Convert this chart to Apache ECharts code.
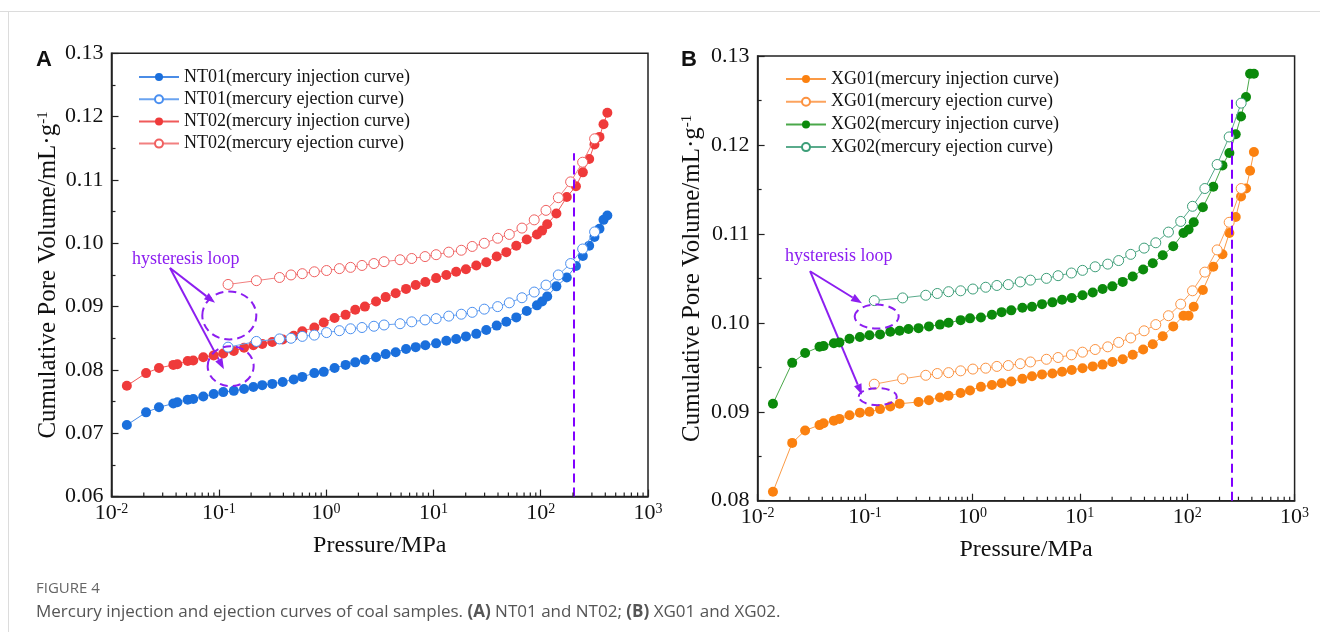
<!DOCTYPE html>
<html>
<head>
<meta charset="utf-8">
<script src="https://cdn.jsdelivr.net/npm/echarts@6/dist/echarts.min.js"></script>
<style>
html, body { margin: 0; padding: 0; background: #fff; }
#chart { width: 1320px; height: 632px; }
</style>
</head>
<body>
<div id="chart"></div>
<script>
// pressures (MPa) of the injection and ejection steps, same for every sample
const P_INJ = [0.0139, 0.0210, 0.0277, 0.0377, 0.0411, 0.0513, 0.0578, 0.0717, 0.0896, 0.110,
  0.138, 0.172, 0.210, 0.254, 0.315, 0.394, 0.499, 0.600, 0.777, 0.950,
  1.20, 1.52, 1.87, 2.30, 2.92, 3.59, 4.45, 5.56, 6.84, 8.41,
  10.6, 13.2, 16.3, 20.1, 25.1, 31.1, 38.9, 47.8, 59.2, 74.1,
  92.3, 103, 115, 140, 175, 213, 247, 283, 317, 353, 385, 418]
const P_EJ = [0.122, 0.224, 0.368, 0.471, 0.600, 0.777, 1.01, 1.33, 1.69, 2.16,
  2.79, 3.47, 4.89, 6.28, 8.36, 10.6, 13.9, 18.2, 23.0, 29.8,
  39.7, 51.0, 66.9, 87.0, 112, 146, 190, 246, 318]

// cumulative pore volume, mL/g
const NT01_INJ = [0.0713, 0.0733, 0.0741, 0.0747, 0.0749, 0.0753, 0.0754, 0.0758, 0.0762, 0.0765,
  0.0767, 0.0770, 0.0773, 0.0776, 0.0778, 0.0781, 0.0785, 0.0789, 0.0795, 0.0797,
  0.0803, 0.0808, 0.0812, 0.0816, 0.0820, 0.0825, 0.0828, 0.0833, 0.0836, 0.0839,
  0.0842, 0.0846, 0.0849, 0.0853, 0.0857, 0.0863, 0.0870, 0.0876, 0.0883, 0.0893,
  0.0902, 0.0908, 0.0916, 0.0932, 0.0946, 0.0964, 0.0980, 0.0996, 0.1010, 0.1023, 0.1037, 0.1044]
const NT01_EJ = [0.0836, 0.0845, 0.0849, 0.0850, 0.0853, 0.0855, 0.0859, 0.0862, 0.0865, 0.0867,
  0.0869, 0.0871, 0.0873, 0.0876, 0.0879, 0.0881, 0.0885, 0.0888, 0.0891, 0.0896,
  0.0900, 0.0906, 0.0914, 0.0923, 0.0934, 0.0950, 0.0968, 0.0991, 0.1018]
const NT02_INJ = [0.0775, 0.0795, 0.0803, 0.0808, 0.0809, 0.0814, 0.0815, 0.0820, 0.0823, 0.0826,
  0.0830, 0.0835, 0.0839, 0.0841, 0.0844, 0.0848, 0.0854, 0.0861, 0.0867, 0.0875,
  0.0882, 0.0887, 0.0895, 0.0900, 0.0908, 0.0915, 0.0921, 0.0928, 0.0934, 0.0939,
  0.0945, 0.0950, 0.0955, 0.0959, 0.0965, 0.0970, 0.0979, 0.0986, 0.0996, 0.1006,
  0.1014, 0.1020, 0.1030, 0.1047, 0.1073, 0.1090, 0.1112, 0.1133, 0.1156, 0.1168, 0.1188, 0.1206]
const NT02_EJ = [0.0935, 0.0941, 0.0946, 0.0950, 0.0952, 0.0955, 0.0957, 0.0960, 0.0962, 0.0965,
  0.0968, 0.0971, 0.0974, 0.0976, 0.0979, 0.0982, 0.0986, 0.0989, 0.0995, 0.1000,
  0.1008, 0.1014, 0.1024, 0.1037, 0.1052, 0.1072, 0.1097, 0.1128, 0.1165]
const XG01_INJ = [0.0810, 0.0865, 0.0879, 0.0885, 0.0887, 0.0890, 0.0892, 0.0896, 0.0899, 0.0900,
  0.0903, 0.0906, 0.0909, null, 0.0911, 0.0913, 0.0916, 0.0918, 0.0921, 0.0924,
  0.0928, 0.0930, 0.0932, 0.0934, 0.0937, 0.0940, 0.0942, 0.0943, 0.0945, 0.0947,
  0.0949, 0.0951, 0.0953, 0.0956, 0.0959, 0.0964, 0.0970, 0.0976, 0.0985, 0.0996,
  0.1008, 0.1008, 0.1018, 0.1037, 0.1063, 0.1077, 0.1101, 0.1119, 0.1142, 0.1151, 0.1171, 0.1192]
const XG01_EJ = [0.0931, 0.0937, 0.0941, 0.0943, 0.0944, 0.0946, 0.0948, 0.0949, 0.0951, 0.0952,
  0.0954, 0.0956, 0.0959, 0.0961, 0.0964, 0.0967, 0.0970, 0.0973, 0.0978, 0.0983,
  0.0991, 0.0998, 0.1008, 0.1021, 0.1036, 0.1057, 0.1082, 0.1113, 0.1151]
const XG02_INJ = [0.0909, 0.0955, 0.0966, 0.0973, 0.0974, 0.0977, 0.0978, 0.0982, 0.0984, 0.0986,
  0.0987, 0.0990, 0.0991, 0.0993, 0.0994, 0.0996, 0.0998, 0.1000, 0.1003, 0.1005,
  0.1006, 0.1009, 0.1012, 0.1014, 0.1017, 0.1018, 0.1021, 0.1023, 0.1026, 0.1028,
  0.1031, 0.1034, 0.1038, 0.1041, 0.1046, 0.1052, 0.1060, 0.1067, 0.1076, 0.1086,
  0.1101, 0.1105, 0.1113, 0.1130, 0.1153, 0.1177, 0.1191, 0.1212, 0.1232, 0.1254, 0.1280, 0.1280]
const XG02_EJ = [0.1025, 0.1028, 0.1031, 0.1033, 0.1035, 0.1036, 0.1038, 0.1040, 0.1042, 0.1043,
  0.1046, 0.1048, 0.1050, 0.1053, 0.1056, 0.1059, 0.1063, 0.1066, 0.1070, 0.1077,
  0.1084, 0.1090, 0.1102, 0.1114, 0.1131, 0.1151, 0.1178, 0.1209, 0.1247]

const NAMES_A = ['NT01(mercury injection curve)', 'NT01(mercury ejection curve)', 'NT02(mercury injection curve)', 'NT02(mercury ejection curve)']
const NAMES_B = ['XG01(mercury injection curve)', 'XG01(mercury ejection curve)', 'XG02(mercury injection curve)', 'XG02(mercury ejection curve)']
const Y_MIN = [0.06, 0.08]
const Y_MAX = [0.13, 0.13]
const DECADES = [0.01, 0.1, 1, 10, 100]
const MINOR_STEPS = [2, 3, 4, 5, 6, 7, 8, 9]
// pressure of the dashed limit line and its top
const LIMIT = [[203, 0.1142], [259, 0.1251]]

const serif = 'Liberation Serif'
const purple = '#8c1ef0'

const chart = echarts.init(document.getElementById('chart'))

function pairs(xs, ys) {
  return xs.map((x, i) => [x, ys[i]]).filter(d => d[1] != null)
}

function curve(name, xs, ys, color, lineColor, open, idx) {
  return {
    name: name,
    type: 'line',
    xAxisIndex: idx,
    yAxisIndex: idx,
    data: pairs(xs, ys),
    symbol: 'circle',
    symbolSize: 10,
    itemStyle: open ? { color: '#fff', borderColor: color, borderWidth: 1 } : { color: color },
    lineStyle: { color: lineColor, width: 1 },
    emphasis: { disabled: true },
    z: open ? 3 : 2
  }
}

function minorTicks(idx) {
  const vals = []
  DECADES.forEach(d => MINOR_STEPS.forEach(k => vals.push([k * d, Y_MIN[idx]])))
  return {
    type: 'custom',
    xAxisIndex: idx,
    yAxisIndex: idx,
    silent: true,
    z: 6,
    data: vals,
    encode: { x: 0, y: 1 },
    renderItem: (params, api) => {
      const cs = params.coordSys
      const x = api.coord([api.value(0), api.value(1)])[0]
      const y = cs.y + cs.height
      return { type: 'line', shape: { x1: x, y1: y, x2: x, y2: y - 4 }, style: { stroke: '#222', lineWidth: 1.2 } }
    }
  }
}

function xAxis(idx) {
  return {
    type: 'log',
    gridIndex: idx,
    min: 0.01,
    max: 1000,
    logBase: 10,
    splitNumber: 5,
    name: 'Pressure/MPa',
    nameLocation: 'middle',
    nameGap: 37,
    nameTextStyle: { fontFamily: serif, fontSize: 24, color: '#111' },
    axisLine: { lineStyle: { color: '#222', width: 1.5 } },
    axisTick: { inside: true, length: 7, lineStyle: { color: '#222', width: 1.2 } },
    axisLabel: {
      margin: 6,
      fontFamily: serif,
      fontSize: 22,
      color: '#111',
      showMinLabel: true,
      showMaxLabel: true,
      formatter: v => '10{s|' + Math.round(Math.log10(v)) + '}',
      rich: { s: { fontFamily: serif, fontSize: 14, color: '#111', verticalAlign: 'top' } }
    },
    splitLine: { show: false }
  }
}

function yAxis(idx) {
  return {
    type: 'value',
    gridIndex: idx,
    min: Y_MIN[idx],
    max: Y_MAX[idx],
    interval: 0.01,
    name: 'Cumulative Pore Volume/mL·g{s|-1}',
    nameLocation: 'middle',
    nameGap: idx === 0 ? 51 : 53,
    nameRotate: 90,
    nameTextStyle: {
      fontFamily: serif, fontSize: 25, color: '#111',
      rich: { s: { fontFamily: serif, fontSize: 15, color: '#111', verticalAlign: 'top' } }
    },
    axisLine: { show: true, lineStyle: { color: '#222', width: 1.5 } },
    axisTick: { inside: true, length: 7, lineStyle: { color: '#222', width: 1.2 } },
    minorTick: { show: true, splitNumber: 2, length: 4, lineStyle: { color: '#222', width: 1.2 } },
    axisLabel: { margin: 8, fontFamily: serif, fontSize: 22, color: '#111', formatter: v => v.toFixed(2) },
    splitLine: { show: false }
  }
}

function legend(names, left, top, gap) {
  return {
    data: names,
    orient: 'vertical',
    left: left,
    top: top,
    itemWidth: 40,
    itemHeight: 10,
    itemGap: gap,
    selectedMode: false,
    textStyle: { fontFamily: serif, fontSize: 18, color: '#111', lineHeight: 20 }
  }
}

function limitLine(idx) {
  return {
    silent: true,
    symbol: 'none',
    label: { show: false },
    lineStyle: { color: '#8000ff', type: [9, 5], width: 2 },
    data: [[{ coord: [LIMIT[idx][0], Y_MIN[idx]] }, { coord: [LIMIT[idx][0], LIMIT[idx][1]] }]]
  }
}

const seriesA = [
  curve(NAMES_A[0], P_INJ, NT01_INJ, '#1a6fdc', '#4a8ce6', false, 0),
  curve(NAMES_A[1], P_EJ, NT01_EJ, '#4a8ff0', '#6aa3f0', true, 0),
  curve(NAMES_A[2], P_INJ, NT02_INJ, '#ef3a3a', '#f05a5a', false, 0),
  curve(NAMES_A[3], P_EJ, NT02_EJ, '#f06060', '#f28080', true, 0)
]
seriesA[0].markLine = limitLine(0)
const seriesB = [
  curve(NAMES_B[0], P_INJ, XG01_INJ, '#fb8110', '#fb9a45', false, 1),
  curve(NAMES_B[1], P_EJ, XG01_EJ, '#fc9240', '#fca35e', true, 1),
  curve(NAMES_B[2], P_INJ, XG02_INJ, '#0b8a0b', '#4aa84a', false, 1),
  curve(NAMES_B[3], P_EJ, XG02_EJ, '#3c9e78', '#5aab8c', true, 1)
]
seriesB[0].markLine = limitLine(1)

chart.setOption({
  animation: false,
  backgroundColor: '#fff',
  grid: [
    { left: 111.5, top: 53.3, width: 536.5, height: 443.3, show: true, borderColor: '#222', borderWidth: 1.5 },
    { left: 757.6, top: 56, width: 537, height: 444.7, show: true, borderColor: '#222', borderWidth: 1.5 }
  ],
  xAxis: [xAxis(0), xAxis(1)],
  yAxis: [yAxis(0), yAxis(1)],
  legend: [legend(NAMES_A, 133, 62, 2.2), legend(NAMES_B, 780, 64, 2.7)],
  series: seriesA.concat(seriesB, [minorTicks(0), minorTicks(1)])
})

// hysteresis-loop notes, anchored in data coordinates
const NOTES = [
  { grid: 0, text: [0.0155, 0.0975], from: [0.0351, 0.0961], to: [[0.0923, 0.0906], [0.1117, 0.0801]],
    rings: [[0.1253, 0.0886, 27, 24], [0.129, 0.0806, 23, 20]] },
  { grid: 1, text: [0.0180, 0.1075], from: [0.0308, 0.1058], to: [[0.0938, 0.1022], [0.0938, 0.0919]],
    rings: [[0.1285, 0.1007, 22, 12], [0.1315, 0.0917, 19, 8.5]] }
]

function px(idx, p) {
  return chart.convertToPixel({ gridIndex: idx }, p)
}

function arrow(a, b) {
  const ang = Math.atan2(b[1] - a[1], b[0] - a[0])
  const L = 11, W = 4
  const base = [b[0] - L * Math.cos(ang), b[1] - L * Math.sin(ang)]
  const nx = -Math.sin(ang) * W, ny = Math.cos(ang) * W
  return [
    { type: 'line', shape: { x1: a[0], y1: a[1], x2: base[0], y2: base[1] }, style: { stroke: purple, lineWidth: 2 } },
    { type: 'polygon', shape: { points: [b, [base[0] + nx, base[1] + ny], [base[0] - nx, base[1] - ny]] }, style: { fill: purple } }
  ]
}

const elements = []
NOTES.forEach(n => {
  const t = px(n.grid, n.text)
  elements.push({ type: 'text', x: t[0], y: t[1], z: 10,
    style: { text: 'hysteresis loop', fill: purple, fontFamily: serif, fontSize: 18, align: 'left', verticalAlign: 'middle' } })
  const a = px(n.grid, n.from)
  n.to.forEach(e => elements.push(...arrow(a, px(n.grid, e))))
  n.rings.forEach(r => {
    const c = px(n.grid, [r[0], r[1]])
    elements.push({ type: 'ellipse', z: 10, shape: { cx: c[0], cy: c[1], rx: r[2], ry: r[3] },
      style: { fill: 'none', stroke: purple, lineWidth: 2, lineDash: [8, 5] } })
  })
})

// panel letters, page rules and the caption
elements.push(
  { type: 'text', x: 36, y: 60, style: { text: 'A', fill: '#111', fontFamily: 'Liberation Sans', fontWeight: 'bold', fontSize: 22, verticalAlign: 'middle' } },
  { type: 'text', x: 681, y: 60, style: { text: 'B', fill: '#111', fontFamily: 'Liberation Sans', fontWeight: 'bold', fontSize: 22, verticalAlign: 'middle' } },
  { type: 'line', shape: { x1: 0, y1: 11.5, x2: 1320, y2: 11.5 }, style: { stroke: '#dcdcdc', lineWidth: 1 } },
  { type: 'line', shape: { x1: 8.5, y1: 11.5, x2: 8.5, y2: 632 }, style: { stroke: '#dcdcdc', lineWidth: 1 } },
  { type: 'text', x: 36, y: 589, style: { text: 'FIGURE 4', fill: '#666', fontFamily: 'Open Sans', fontSize: 15, verticalAlign: 'middle' } },
  { type: 'text', x: 36, y: 612, style: {
      text: '{n|Mercury injection and ejection curves of coal samples. }{b|(A)}{n| NT01 and NT02; }{b|(B)}{n| XG01 and XG02.}',
      verticalAlign: 'middle',
      rich: {
        n: { fill: '#555', fontFamily: 'Open Sans', fontSize: 17 },
        b: { fill: '#555', fontFamily: 'Open Sans', fontSize: 17, fontWeight: 'bold' }
      }
    } }
)

chart.setOption({ graphic: { elements: elements } })
</script>
</body>
</html>
